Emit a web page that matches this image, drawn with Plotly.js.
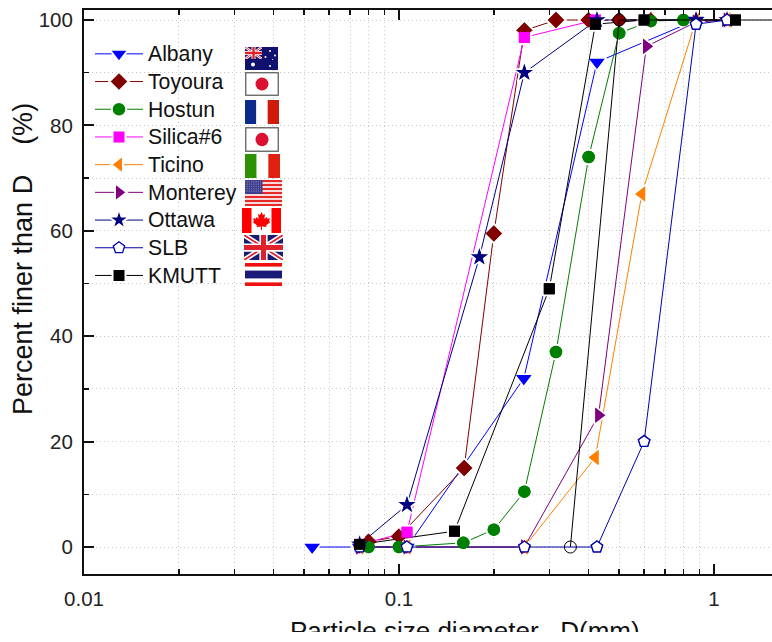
<!DOCTYPE html>
<html><head><meta charset="utf-8">
<script src="https://cdn.plot.ly/plotly-3.0.1.min.js"></script>
<style>
html,body{margin:0;padding:0;background:#fff}
#clip{width:772px;height:632px;overflow:hidden}
#chart{width:772px;height:642px}
.legendtext{font-size:21.2px !important}
</style></head><body>
<div id="clip"><div id="chart"></div></div>
<script>
const names=['Albany','Toyoura','Hostun','Silica#6','Ticino','Monterey','Ottawa','SLB','KMUTT'];
const albanyX=[0.053,0.075,0.106,0.249,0.425,0.877];
const albanyY=[0,0,0,32,92,100];
const toyouraX=[0.08,0.1,0.161,0.2,0.25,0.315,0.4,0.5,0.63];
const toyouraY=[1,2,15,59.5,98,100,100,100,100];
const hostunX=[0.08,0.1,0.16,0.2,0.25,0.315,0.4,0.5,0.63,0.8];
const hostunY=[0,0,0.8,3.3,10.5,37,74,97.5,99.8,100];
const silicaX=[0.075,0.106,0.25,0.42];
const silicaY=[0.5,2.8,96.7,100];
const ticinoX=[0.075,0.106,0.25,0.42,0.59,0.877,1.1];
const ticinoY=[0,0,0,17,67,100,100];
const montereyX=[0.075,0.106,0.25,0.43,0.61,0.877,1.1];
const montereyY=[0,0,0,25,95,99.6,100];
const ottawaX=[0.075,0.106,0.18,0.25,0.425,0.877,1.1];
const ottawaY=[0.5,8,55,90,100,100,100];
const slbX=[0.075,0.106,0.25,0.425,0.6,0.877,1.1];
const slbY=[0,0,0,0,20,99.2,100];
const kmuttX=[0.075,0.15,0.3,0.42,0.6,1.17];
const kmuttY=[0.5,3,49,99.2,100,100];
const extraX=[0.35,0.5,2];
const extraY=[0,100,100];

const series=[
  [0,albanyX,albanyY,'#0000ff','triangle-down',13.5,16],
  [1,toyouraX,toyouraY,'#800000','diamond',12,15],
  [2,hostunX,hostunY,'#008000','circle',12.5,14.5],
  [3,silicaX,silicaY,'#ff00ff','square',11,13],
  [4,ticinoX,ticinoY,'#ff8000','triangle-left',13.5,16],
  [5,montereyX,montereyY,'#800080','triangle-right',13.5,16],
  [6,ottawaX,ottawaY,'#000080','star',13,16],
  [7,slbX,slbY,'#0000a8','pentagon',12,12],
  [8,kmuttX,kmuttY,'#000000','square',11,13]
];
const lineLayer=series.map(([i,x,y,color,symbol,size,haloSize])=>({
  type:'scatter',mode:'lines+markers',name:names[i],x,y,legendgroup:names[i],
  line:{color,width:1},
  marker: i===7 ? {symbol,size,color:'#fff',line:{color,width:1.3}}
                : {symbol,size:haloSize,color,line:{color:'#fff',width:2}}
}));
const extraLine={type:'scatter',mode:'lines+markers',showlegend:false,x:extraX,y:extraY,
  line:{color:'#000',width:1},
  marker:{symbol:'circle',size:12,color:'rgba(0,0,0,0)',line:{color:'#000',width:1}}};
const markerLayer=series.map(([i,x,y,color,symbol,size])=>({
  type:'scatter',mode:'markers',showlegend:false,legendgroup:names[i],x,y,
  marker: i===7 ? {symbol,size,color:'#fff',line:{color,width:1.3}}
                : {symbol,size,color,line:{width:0}}
}));
const traces=[...lineLayer,...markerLayer.slice(0,7),extraLine,...markerLayer.slice(7)];

const L=84,T=10,W=688,H=564;
function svg(w,h,body){return 'data:image/svg+xml;charset=utf-8,'+encodeURIComponent(
  `<svg xmlns="http://www.w3.org/2000/svg" viewBox="0 0 ${w} ${h}" preserveAspectRatio="none" width="${w*4}" height="${h*4}">${body}</svg>`);}
function jack(w,h){
  return `<rect width="${w}" height="${h}" fill="#1a1a70"/>`+
  `<path d="M0,0L${w},${h}M${w},0L0,${h}" stroke="#fff" stroke-width="${h*0.2}"/>`+
  `<path d="M0,0L${w},${h}M${w},0L0,${h}" stroke="#e0202a" stroke-width="${h*0.07}"/>`+
  `<path d="M${w/2},0V${h}M0,${h/2}H${w}" stroke="#fff" stroke-width="${h*0.33}"/>`+
  `<path d="M${w/2},0V${h}M0,${h/2}H${w}" stroke="#e0202a" stroke-width="${h*0.2}"/>`;
}
const flagAU=svg(33,23,`<rect width="33" height="23" fill="#10106e"/><svg width="17" height="12" viewBox="0 0 17 12">${jack(17,12)}</svg>`+
  `<g fill="#fff"><circle cx="8" cy="17.5" r="2"/><circle cx="25" cy="4" r="1"/><circle cx="25" cy="19" r="1"/><circle cx="20.5" cy="10" r="1"/><circle cx="30" cy="8.5" r="1"/><circle cx="27.5" cy="12.5" r=".6"/></g>`);
const flagJP=svg(34,24,`<rect x=".75" y=".75" width="32.5" height="22.5" fill="#fff" stroke="#555" stroke-width="1.2"/><circle cx="17" cy="12" r="6.5" fill="#dc1030"/>`);
const flagFR=svg(3,1,`<rect width="1" height="1" fill="#0a2a8c"/><rect x="1" width="1" height="1" fill="#fff"/><rect x="2" width="1" height="1" fill="#cf1b0a"/>`);
const flagIT=svg(3,1,`<rect width="1" height="1" fill="#2f9000"/><rect x="1" width="1" height="1" fill="#fff"/><rect x="2" width="1" height="1" fill="#e02010"/>`);
let st='';for(let i=0;i<13;i++)st+=`<rect y="${i*2}" width="37" height="2" fill="${i%2?'#f8d8d8':'#e62a2a'}"/>`;
let dots='';for(let r=0;r<7;r++)for(let c=0;c<9;c++)dots+=`<circle cx="${1+c*1.8}" cy="${1.2+r*1.75}" r=".45" fill="#b0b0d8"/>`;
const flagUS=svg(37,26,st+`<rect width="17.5" height="14" fill="#3a3a8c"/>`+dots);
const flagCA=svg(39,25,`<rect width="39" height="25" fill="#fff"/><rect width="9.5" height="25" fill="#f00"/><rect x="29.5" width="9.5" height="25" fill="#f00"/>`+
  `<path fill="#f00" d="M19.5,4 L21,7 L23,6 L22.3,11 L24.5,9 L25.2,10.8 L28,10.3 L27,13.3 L28.3,14 L24,17.5 L24.5,19 L20,18.5 L20,22 L19,22 L19,18.5 L14.5,19 L15,17.5 L10.7,14 L12,13.3 L11,10.3 L13.8,10.8 L14.5,9 L16.7,11 L16,6 L18,7 Z"/>`);
const flagUK=svg(39,25,jack(39,25));
const flagTH=svg(37,23,`<rect width="37" height="23" fill="#fff"/><rect width="37" height="3.6" fill="#f01010"/><rect y="19.4" width="37" height="3.6" fill="#f01010"/><rect y="7.6" width="37" height="7.8" fill="#1a1a78"/>`);
function img(source,x0,x1,y0,y1){return {source,xref:'paper',yref:'paper',x:(x0-L)/W,y:(T+H-y0)/H,
  sizex:(x1-x0)/W,sizey:(y1-y0)/H,xanchor:'left',yanchor:'top',sizing:'stretch',layer:'above'};}

const xMinor=[];
[0.01,0.1,1].forEach(d=>{for(let k=2;k<=9;k++)xMinor.push(d*k);});
const axisColor='#111';
const dotted='1px,3px';
const layout={
  width:772,height:642,margin:{l:L,r:0,t:T,b:68},
  paper_bgcolor:'#fff',plot_bgcolor:'#fff',showlegend:true,
  font:{family:'"Liberation Sans",Arial,sans-serif',color:'#222',size:20},
  xaxis:{type:'log',range:[-2,0.1841],tickmode:'array',tickvals:[0.01,0.1,1],ticktext:['0.01','0.1','1'],
    ticks:'inside',ticklen:10,tickwidth:2,tickcolor:axisColor,showline:true,linecolor:axisColor,linewidth:2,mirror:'allticks',
    showgrid:false,zeroline:false,tickfont:{size:20.5},ticklabelstandoff:5,
    minor:{tickmode:'array',tickvals:xMinor,ticks:'inside',ticklen:5,tickwidth:1.5,tickcolor:axisColor,showgrid:true,griddash:dotted,gridcolor:'#c8c8c8',gridwidth:1}},
  yaxis:{range:[-5.12,101.9],tickmode:'array',tickvals:[0,20,40,60,80,100],
    ticks:'inside',ticklen:10,tickwidth:2,tickcolor:axisColor,showline:true,linecolor:axisColor,linewidth:2,
    showgrid:true,griddash:dotted,gridcolor:'#c8c8c8',gridwidth:1,zeroline:false,tickfont:{size:20.5},ticklabelstandoff:5,
    minor:{tickmode:'array',tickvals:[10,30,50,70,90],ticks:'inside',ticklen:5,tickwidth:1.5,tickcolor:axisColor,showgrid:true,griddash:dotted,gridcolor:'#c8c8c8',gridwidth:1}},
  legend:{x:(90-L)/W,y:(T+H-35)/H,xanchor:'left',yanchor:'top',bgcolor:'rgba(0,0,0,0)',borderwidth:0,itemwidth:48,
    font:{size:19,color:'#111'},traceorder:'normal',itemsizing:'trace'},
  annotations:[
    {text:'Particle size diameter\u00a0\u00a0\u00a0D(mm)',xref:'paper',yref:'paper',x:(464.5-L)/W,y:(T+H-631)/H,xanchor:'center',yanchor:'middle',showarrow:false,font:{size:26,color:'#111'}},
    {text:'Percent finer than D\u00a0\u00a0\u00a0\u00a0(%)',xref:'paper',yref:'paper',x:(23-L)/W,y:(T+H-259)/H,xanchor:'center',yanchor:'middle',textangle:-90,showarrow:false,font:{size:27,color:'#111'}}
  ],
  images:[
    img(flagAU,245,278,47,70),img(flagJP,245,279,72,96),img(flagFR,245,279,100,124),
    img(flagJP,245,279,127,152),img(flagIT,245,280,154,178),img(flagUS,245,282,180,206),
    img(flagCA,242,281,208,233),img(flagUK,244,283,235,260),img(flagTH,245,282,263,286)
  ]
};
Plotly.newPlot('chart',traces,layout,{displayModeBar:false,staticPlot:true});
</script></body></html>
